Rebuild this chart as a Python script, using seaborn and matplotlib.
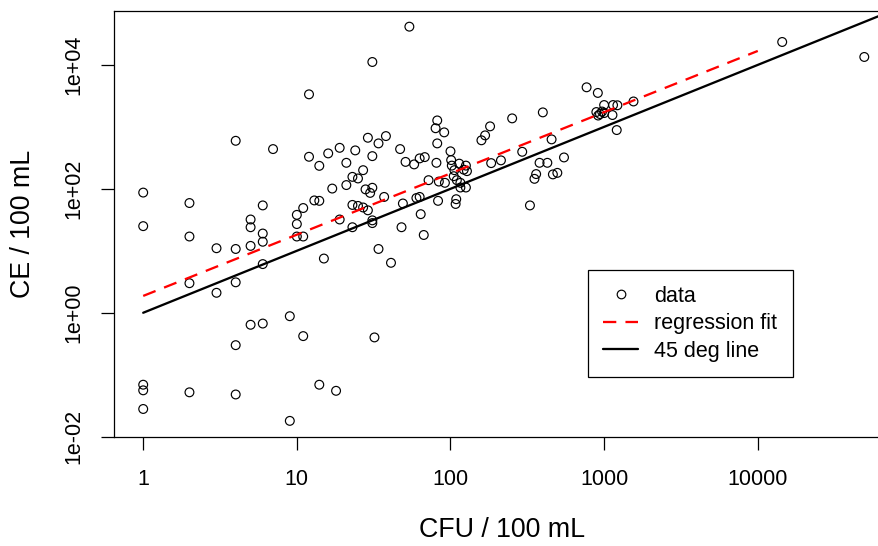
import matplotlib
matplotlib.use("Agg")
import matplotlib.pyplot as plt
from matplotlib.lines import Line2D
import seaborn as sns
import pandas as pd

# --- data ---
cfu = [1, 1, 1, 1, 1,
       2, 2, 2, 2,
       3, 3,
       4, 4, 4, 4, 4,
       5, 5, 5, 5,
       6, 6, 6, 6, 6,
       7, 9, 9,
       10, 10, 10,
       11, 11, 11,
       12, 12, 13, 14, 14, 14,
       15, 16, 17, 18, 19, 19, 21, 21,
       23, 23, 23, 24, 25, 25, 27, 27, 28, 29, 29, 30,
       31, 31, 31, 31, 31, 32, 34, 34,
       37, 38, 41, 47, 48, 49, 51, 54, 58, 60, 63, 63, 64, 67, 68,
       72, 80, 81, 82, 82, 83, 84, 91, 92,
       100, 101, 102, 105, 106, 108, 109, 110, 114, 116, 116, 122, 126, 126, 128,
       159, 168, 181, 184, 213, 252, 293, 329, 352, 361, 380, 399, 427, 455, 464, 496, 548,
       769, 890, 910, 915, 940, 970, 1000, 1000, 1133, 1143, 1208, 1220, 1553,
       14420, 49350]
ce = [87, 25, 0.069, 0.056, 0.028,
      59, 17, 3.0, 0.052,
      11, 2.1,
      596, 10.7, 3.1, 0.30, 0.048,
      32, 24, 12, 0.64,
      54, 19, 14, 6.1, 0.67,
      438, 0.88, 0.018,
      38, 27, 17,
      49, 17, 0.42,
      3350, 329, 65, 64, 235, 0.069,
      7.5, 373, 101, 0.055, 459, 32, 263, 115,
      156, 55, 24, 417, 147, 53, 200, 50, 98, 667, 45, 86,
      11140, 337, 104, 31, 28, 0.40, 541, 10.7,
      74, 710, 6.4, 438, 24, 58, 272, 41400, 248, 71, 310, 74, 39, 18, 325,
      138, 950, 263, 1270, 541, 64, 131, 815, 125,
      403, 291, 237, 160, 200, 57, 68, 138, 255, 125, 105, 204, 237, 105, 193,
      607, 729, 1019, 260, 288, 1371, 396, 54, 145, 173, 263, 1713, 263, 628, 171, 181, 321,
      4350, 1734, 3530, 1523, 1610, 1767, 2250, 1670, 1552, 2250, 888, 2230, 2570,
      23440, 13430]

# regression fit end points and the 1:1 line
fit_x = [1, 10000]
fit_y = [1.87, 16800]
diag_x = [1, 100000]
diag_y = [1, 100000]

x_ticks = [1, 10, 100, 1000, 10000]
x_tick_labels = ['1', '10', '100', '1000', '10000']
y_ticks = [0.01, 1, 100, 10000]
y_tick_labels = ['1e-02', '1e+00', '1e+02', '1e+04']

df = pd.DataFrame({'CFU': cfu, 'CE': ce})

sns.set_theme(style="white")
plt.rcParams['font.family'] = ['Liberation Sans', 'DejaVu Sans']

fig = plt.figure(figsize=(8.79, 5.46), dpi=100)
# plot region runs past the right edge, as in the original (cropped) figure
ax = fig.add_axes([0.1297, 0.2002, 0.8862, 0.7791])
ax.set_xscale('log')
ax.set_yscale('log')

sns.scatterplot(data=df, x='CFU', y='CE', ax=ax, s=40, linewidth=0.85, zorder=3)
pts = ax.collections[-1]
pts.set_facecolor('none')
pts.set_edgecolor('black')

dash = (0, (5.8, 4.0))
sns.lineplot(x=fit_x, y=fit_y, ax=ax, color='red', linewidth=1.65,
             linestyle=dash, zorder=4)
sns.lineplot(x=diag_x, y=diag_y, ax=ax, color='black', linewidth=1.65, zorder=4)

ax.set_xlim(10 ** -0.19, 10 ** 4.88)
ax.set_ylim(10 ** -2.0, 10 ** 4.865)

ax.set_xticks(x_ticks)
ax.set_xticklabels(x_tick_labels)
ax.set_yticks(y_ticks)
ax.set_yticklabels(y_tick_labels, rotation=90, va='center')
ax.minorticks_off()
ax.tick_params(axis='both', which='major', direction='out', length=9.4, width=0.9,
               color='black', labelsize=15.5, labelcolor='black',
               bottom=True, left=True, top=False, right=False)
ax.tick_params(axis='x', pad=14)
ax.tick_params(axis='y', pad=12)

for sp in ax.spines.values():
    sp.set_color('black')
    sp.set_linewidth(0.9)

ax.set_xlabel('CFU / 100 mL', fontsize=19.3, va='center', color='black')
ax.set_ylabel('CE / 100 mL', fontsize=19.3, va='center', color='black')
ax.xaxis.set_label_coords(0.498, -0.219)
ax.yaxis.set_label_coords(-0.1168, 0.5)
ax.grid(False)

handles = [
    Line2D([], [], marker='o', linestyle='none', markerfacecolor='none',
           markeredgecolor='black', markersize=6.2, markeredgewidth=0.85),
    Line2D([], [], color='red', linewidth=1.65, linestyle=dash),
    Line2D([], [], color='black', linewidth=1.65),
]
leg = ax.legend(handles, ['data', 'regression fit', '45 deg line'],
                loc='upper left', bbox_to_anchor=(588 / 879, 1 - 270 / 546),
                bbox_transform=fig.transFigure, borderaxespad=0,
                fontsize=15.5, frameon=True, fancybox=False, framealpha=1,
                edgecolor='black', handlelength=1.6, handletextpad=0.75,
                labelspacing=0.31, borderpad=0.72)
leg.get_frame().set_linewidth(0.9)
for t in leg.get_texts():
    t.set_color('black')

fig.savefig('out.png', dpi=100)
